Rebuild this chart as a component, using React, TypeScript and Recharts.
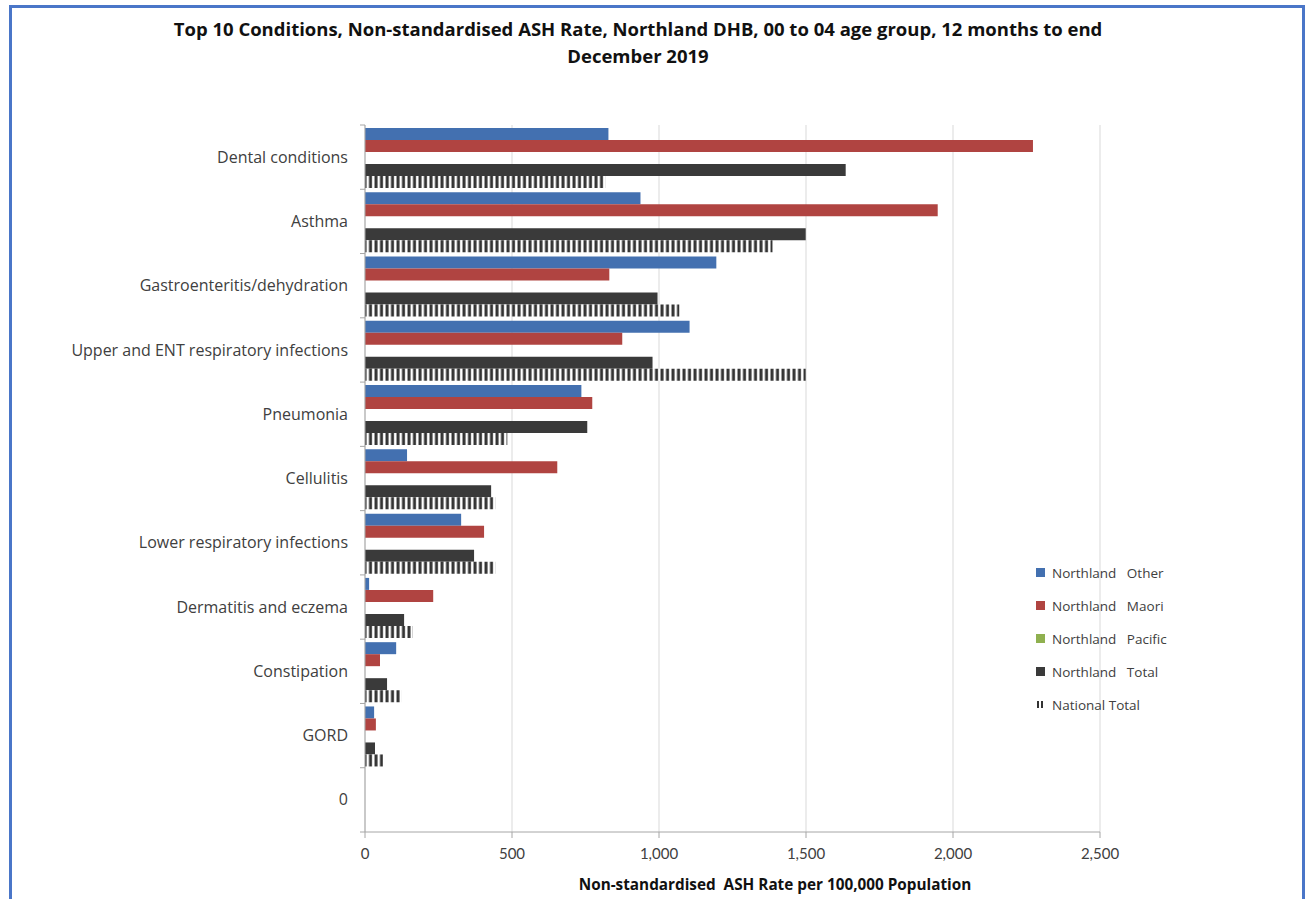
import React from "react";
import { BarChart, Bar, XAxis, YAxis, CartesianGrid } from "recharts";

// ASH rate per 100,000, 0-4 age group, 12 months to end Dec 2019
const conditions = [
  "Dental conditions",
  "Asthma",
  "Gastroenteritis/dehydration",
  "Upper and ENT respiratory infections",
  "Pneumonia",
  "Cellulitis",
  "Lower respiratory infections",
  "Dermatitis and eczema",
  "Constipation",
  "GORD",
  "0",
];
const northlandOther = [828, 937, 1195, 1104, 736, 143, 327, 14, 106, 31, null];
const northlandMaori = [2272, 1948, 831, 875, 773, 654, 405, 232, 51, 37, null];
const northlandPacific = [0, 0, 0, 0, 0, 0, 0, 0, 0, 0, null];
const northlandTotal = [1635, 1499, 995, 978, 756, 429, 371, 133, 75, 34, null];
const nationalTotal = [817, 1386, 1069, 1499, 484, 443, 443, 163, 123, 61, null];
const xTicks = [0, 500, 1000, 1500, 2000, 2500];

const data = conditions.map((name, i) => ({
  name,
  other: northlandOther[i],
  maori: northlandMaori[i],
  pacific: northlandPacific[i],
  total: northlandTotal[i],
  national: nationalTotal[i],
}));

const series = [
  { key: "other", label: "Northland   Other", color: "#4370b0" },
  { key: "maori", label: "Northland   Maori", color: "#b04441" },
  { key: "pacific", label: "Northland   Pacific", color: "#8fb04f" },
  { key: "total", label: "Northland   Total", color: "#3a3a3a" },
  { key: "national", label: "National Total", color: "url(#hatch)" },
];

const W = 1307;
const H = 899;
const PLOT_LEFT = 365;
const PLOT_RIGHT = 1100;
const PLOT_TOP = 125;
const PLOT_BOTTOM = 832;
const FONT = "'Open Sans', sans-serif";
const TICK_FONT = "Lato, sans-serif";
const TEXT = "#404040";
const AXIS = "#a6a6a6";

const bandHalf = (PLOT_BOTTOM - PLOT_TOP) / conditions.length / 2;

function CategoryTick(props: any) {
  const { x, y, payload, index } = props;
  const last = index === conditions.length - 1;
  return (
    <g>
      <line x1={PLOT_LEFT - 5} x2={PLOT_LEFT} y1={y - bandHalf} y2={y - bandHalf} stroke={AXIS} />
      {last && (
        <line x1={PLOT_LEFT - 5} x2={PLOT_LEFT} y1={y + bandHalf} y2={y + bandHalf} stroke={AXIS} />
      )}
      <text x={x} y={y} dy="0.35em" textAnchor="end" fill={TEXT} fontSize={16} fontFamily={FONT}>
        {payload.value}
      </text>
    </g>
  );
}

function LegendBox() {
  return (
    <div style={{ position: "absolute", left: 1036, top: 556, fontFamily: FONT, fontSize: 13.5, color: TEXT }}>
      {series.map((s) => (
        <div key={s.key} style={{ display: "flex", alignItems: "center", height: 33 }}>
          {s.key === "national" ? (
            <svg width={9} height={9} style={{ marginRight: 7 }}>
              <rect x={1} y={1} width={2} height={7} fill="#333" />
              <rect x={5} y={1} width={2} height={7} fill="#333" />
            </svg>
          ) : (
            <span style={{ width: 9, height: 9, background: s.color, marginRight: 7, display: "inline-block" }} />
          )}
          <span style={{ whiteSpace: "pre" }}>{s.label}</span>
        </div>
      ))}
    </div>
  );
}

export default function App() {
  return (
    <div style={{ position: "absolute", left: 0, top: 0, width: W, height: H, background: "#fff", overflow: "hidden" }}>
      <svg width={0} height={0} style={{ position: "absolute" }}>
        <defs>
          <pattern id="hatch" patternUnits="userSpaceOnUse" width={5.5} height={20}>
            <rect x={0} y={0} width={5.5} height={20} fill="#fff" />
            <rect x={0.5} y={0} width={3} height={20} fill="#333" />
          </pattern>
        </defs>
      </svg>
      <div
        style={{
          position: "absolute",
          left: 9,
          top: 5,
          width: 1290,
          height: 920,
          borderTop: "3px solid #4a76c8",
          borderLeft: "3px solid #4a76c8",
          borderRight: "3px solid #4a76c8",
        }}
      />
      <div
        style={{
          position: "absolute",
          left: 88,
          width: 1100,
          top: 15,
          textAlign: "center",
          fontFamily: FONT,
          fontWeight: 700,
          fontSize: 18.5,
          lineHeight: "27px",
          color: "#111",
        }}
      >
        Top 10 Conditions, Non-standardised ASH Rate, Northland DHB, 00 to 04 age group, 12 months to end
        <br />
        December 2019
      </div>
      <div
        style={{
          position: "absolute",
          left: 475,
          width: 600,
          top: 874,
          textAlign: "center",
          fontFamily: FONT,
          fontWeight: 700,
          fontSize: 15.3,
          color: "#111",
          whiteSpace: "pre",
        }}
      >
        Non-standardised  ASH Rate per 100,000 Population
      </div>
      <div style={{ position: "absolute", left: 0, top: 0 }}>
        <BarChart
          width={W}
          height={H}
          data={data}
          layout="vertical"
          margin={{ top: PLOT_TOP, right: W - PLOT_RIGHT, bottom: H - PLOT_BOTTOM - 30, left: 0 }}
          barCategoryGap={3}
          barGap={0}
        >
          <CartesianGrid horizontal={false} stroke="#d9d9d9" />
          <XAxis
            type="number"
            domain={[0, 2500]}
            ticks={xTicks}
            height={30}
            stroke={AXIS}
            tickSize={6}
            tickMargin={10}
            tick={{ fill: TEXT, fontSize: 15, fontFamily: TICK_FONT }}
            tickFormatter={(v: number) => v.toLocaleString("en-US")}
          />
          <YAxis
            type="category"
            dataKey="name"
            width={PLOT_LEFT}
            stroke={AXIS}
            tickLine={false}
            tickMargin={11}
            tick={<CategoryTick />}
            interval={0}
          />
          {series.map((s) => (
            <Bar key={s.key} dataKey={s.key} fill={s.color} isAnimationActive={false} />
          ))}
        </BarChart>
      </div>
      <LegendBox />
    </div>
  );
}
